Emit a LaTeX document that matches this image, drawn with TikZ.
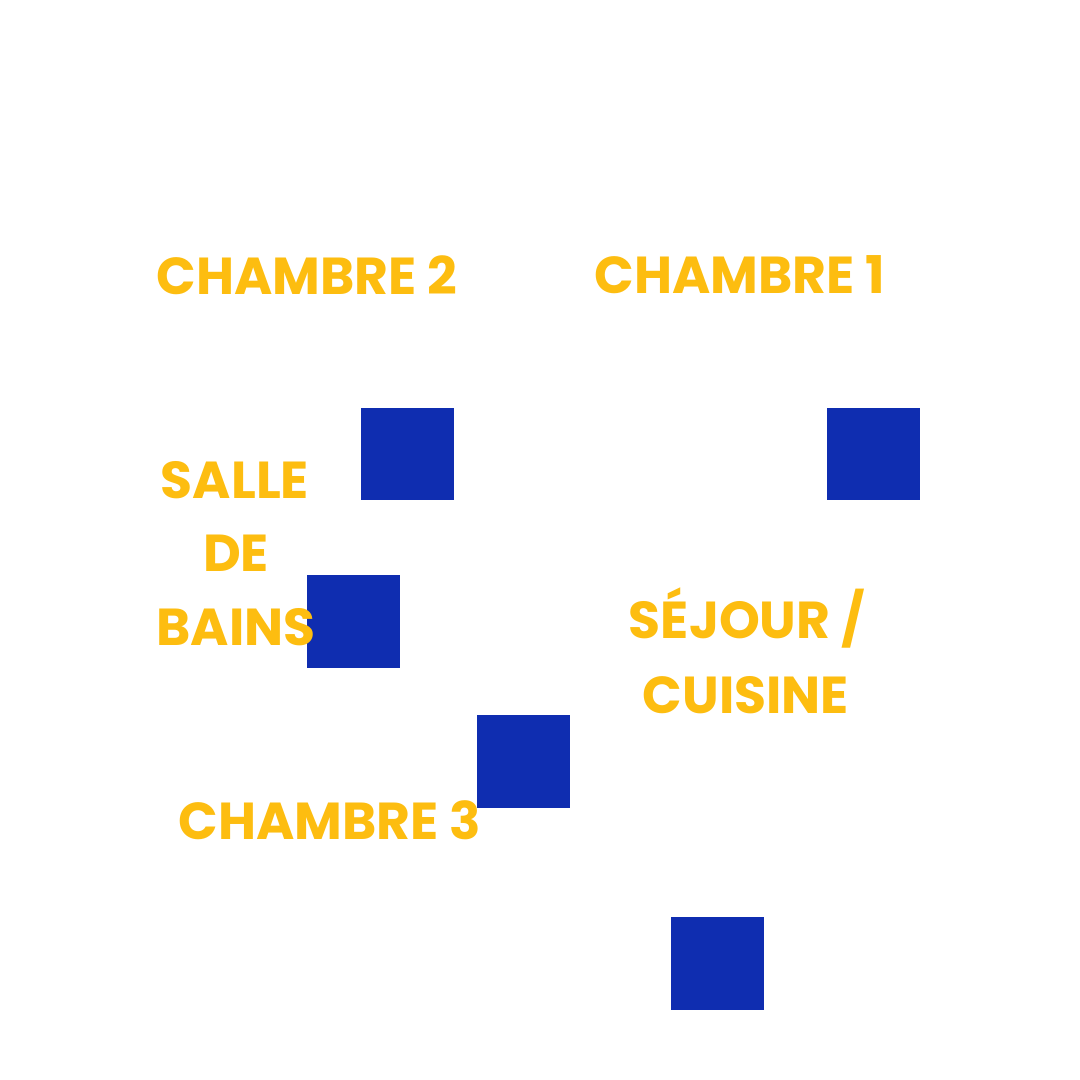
\documentclass[tikz,border=0pt]{standalone}
\usepackage{fontspec}
\setmainfont{Poppins}[UprightFont=* Bold]
\definecolor{lbl}{HTML}{FDBD10}
\definecolor{sq}{HTML}{0F2DB0}
\begin{document}
\begin{tikzpicture}[x=1pt,y=-1pt,
  blk/.style={fill=sq},
  lab/.style={text=lbl,font=\fontsize{52}{62}\selectfont,inner sep=0pt,anchor=center}]
\useasboundingbox (0,0) rectangle (1080,1080);
\fill[white] (0,0) rectangle (1080,1080);
\fill[blk] (361,408) rectangle (454,500);
\fill[blk] (827,408) rectangle (920,500);
\fill[blk] (307,575) rectangle (400,668);
\fill[blk] (477,715) rectangle (570,808);
\fill[blk] (671,917) rectangle (764,1010);
\node[lab] (c2) at (307,275) {CHAMBRE 2};
\node[lab] (c1) at (740,275) {CHAMBRE 1};
\node[lab] (s1) at (235,480) {SALLE};
\node[lab] (s2) at (236,553) {DE};
\node[lab] (s3) at (236,627) {BAINS};
\node[lab] (j1) at (747,618) {SÉJOUR /};
\node[lab] (j2) at (746,695) {CUISINE};
\node[lab] (c3) at (330,820) {CHAMBRE 3};
\end{tikzpicture}
\end{document}
